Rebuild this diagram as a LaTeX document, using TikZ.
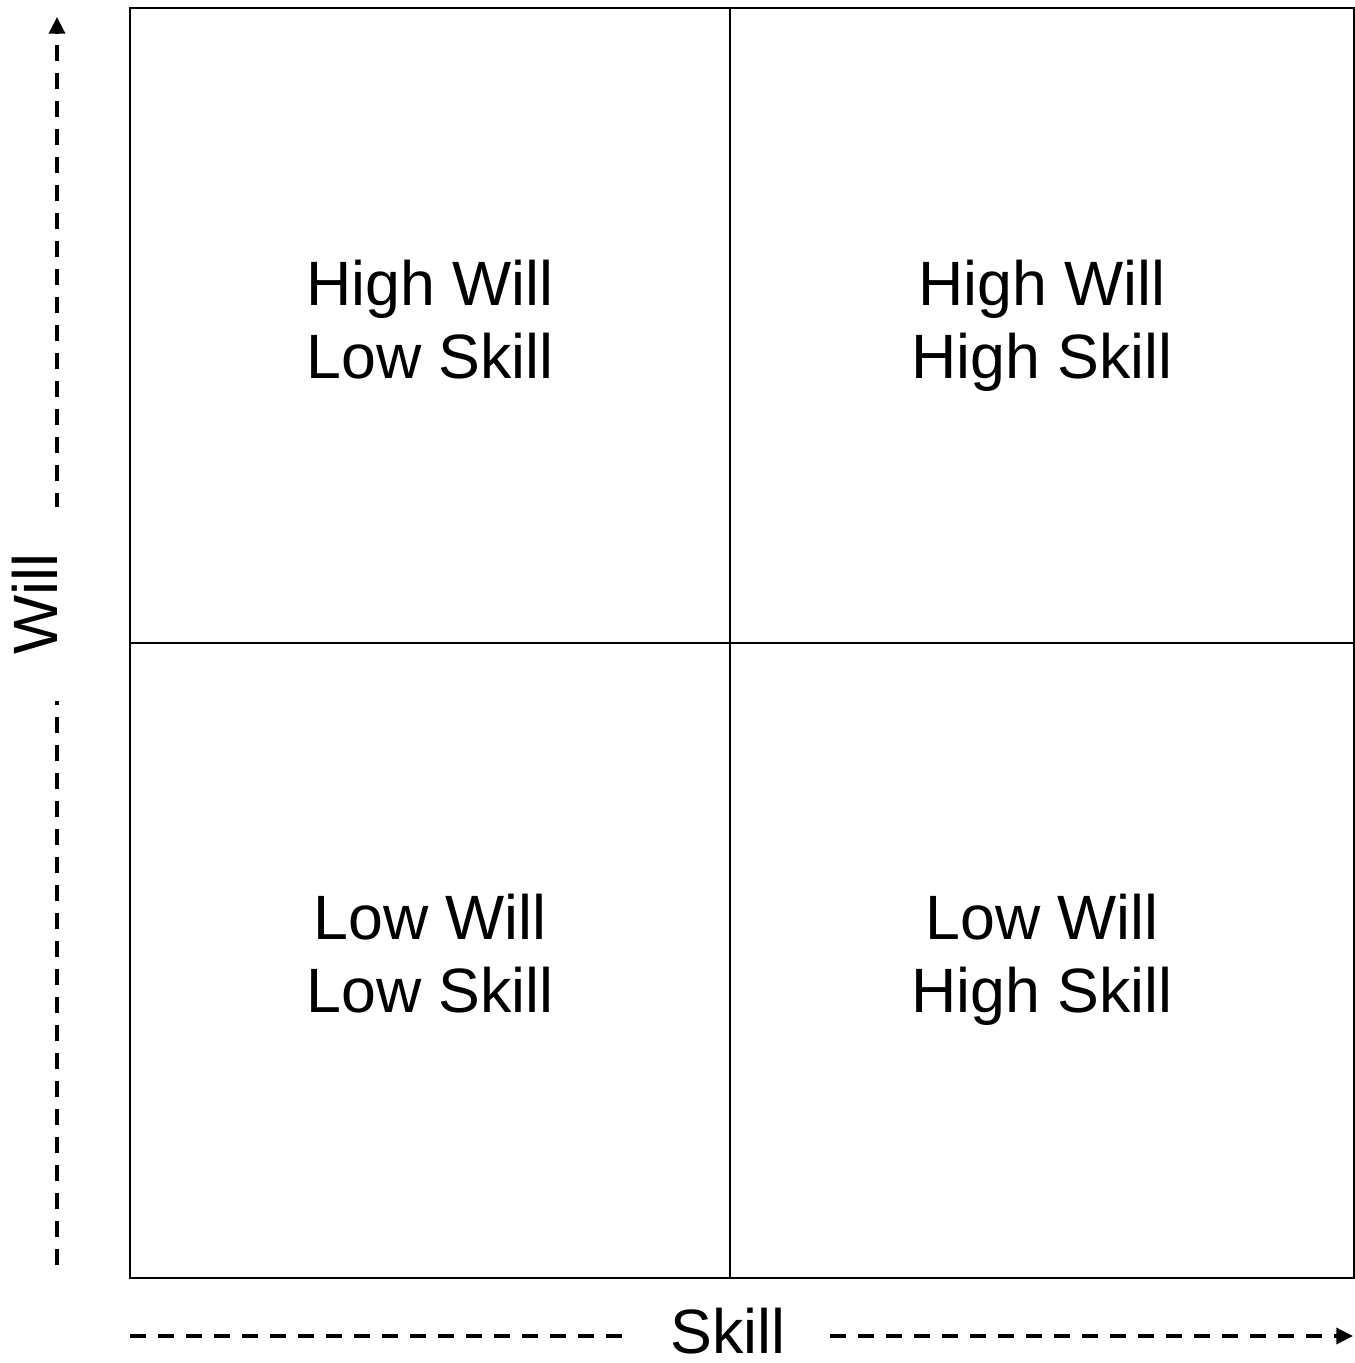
\documentclass[tikz,border=0pt]{standalone}
\usepackage{fontspec}
\setmainfont{Liberation Sans}
\usetikzlibrary{arrows.meta}
\begin{document}
\begin{tikzpicture}[x=0.75pt,y=-0.75pt,
  cell/.style={draw, line width=2.2pt, inner sep=0pt, outer sep=0pt, minimum height=476.25pt},
  celltext/.style={align=center, font=\fontsize{47}{54.75}\selectfont},
  axis/.style={line width=2.6pt, dash pattern=on 12pt off 9pt, -{Triangle[length=12.5pt,width=12pt]}},
  axislabel/.style={fill=white, font=\fontsize{47}{54.75}\selectfont, inner xsep=0pt, inner ysep=3pt, minimum width=146pt}]
\useasboundingbox (0,0) rectangle (1355,1363);
% axes
\coordinate (wstart) at (57,1265);
\coordinate (wend) at (57,17);
\coordinate (sstart) at (130,1336);
\coordinate (send) at (1353,1336);
\draw[axis] (wstart) -- (wend);
\draw[axis] (sstart) -- (send);
\node[axislabel, rotate=90] (will) at (35,604) {Will};
\node[axislabel] (skill) at (728,1331) {Skill};
% cells
\node[cell, minimum width=450pt] (tl) at (430,325.5) {};
\node[cell, minimum width=468pt] (tr) at (1042,325.5) {};
\node[cell, minimum width=450pt] (bl) at (430,960.5) {};
\node[cell, minimum width=468pt] (br) at (1042,960.5) {};
\node[celltext] (tlt) at (430,320) {High Will\\Low Skill};
\node[celltext] (trt) at (1042,326) {High Will\\High Skill};
\node[celltext] (blt) at (430,954) {Low Will\\Low Skill};
\node[celltext] (brt) at (1042,960) {Low Will\\High Skill};
\end{tikzpicture}
\end{document}
